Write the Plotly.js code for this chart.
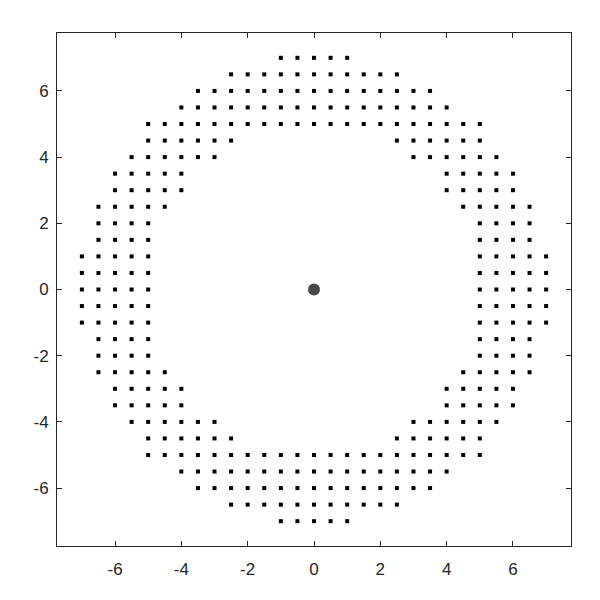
<!DOCTYPE html>
<html>
<head>
<meta charset="utf-8">
<script src="https://cdn.plot.ly/plotly-3.0.1.min.js"></script>
<style>
body { margin: 0; background: #fff; }
#graph { width: 600px; height: 600px; }
</style>
</head>
<body>
<div id="graph"></div>
<script>
// grid points of the ring, one row per y value
var rowY = [7, 6.5, 6, 5.5, 5, 4.5, 4, 3.5, 3, 2.5, 2, 1.5, 1, 0.5, 0,
	-0.5, -1, -1.5, -2, -2.5, -3, -3.5, -4, -4.5, -5, -5.5, -6, -6.5, -7];

var rowX = [
	[-1, -0.5, 0, 0.5, 1],
	[-2.5, -2, -1.5, -1, -0.5, 0, 0.5, 1, 1.5, 2, 2.5],
	[-3.5, -3, -2.5, -2, -1.5, -1, -0.5, 0, 0.5, 1, 1.5, 2, 2.5, 3, 3.5],
	[-4, -3.5, -3, -2.5, -2, -1.5, -1, -0.5, 0, 0.5, 1, 1.5, 2, 2.5, 3, 3.5, 4],
	[-5, -4.5, -4, -3.5, -3, -2.5, -2, -1.5, -1, -0.5, 0, 0.5, 1, 1.5, 2, 2.5, 3, 3.5, 4, 4.5, 5],
	[-5, -4.5, -4, -3.5, -3, -2.5, 2.5, 3, 3.5, 4, 4.5, 5],
	[-5.5, -5, -4.5, -4, -3.5, -3, 3, 3.5, 4, 4.5, 5, 5.5],
	[-6, -5.5, -5, -4.5, -4, 4, 4.5, 5, 5.5, 6],
	[-6, -5.5, -5, -4.5, -4, 4, 4.5, 5, 5.5, 6],
	[-6.5, -6, -5.5, -5, -4.5, 4.5, 5, 5.5, 6, 6.5],
	[-6.5, -6, -5.5, -5, 5, 5.5, 6, 6.5],
	[-6.5, -6, -5.5, -5, 5, 5.5, 6, 6.5],
	[-7, -6.5, -6, -5.5, -5, 5, 5.5, 6, 6.5, 7],
	[-7, -6.5, -6, -5.5, -5, 5, 5.5, 6, 6.5, 7],
	[-7, -6.5, -6, -5.5, -5, 5, 5.5, 6, 6.5, 7],
	[-7, -6.5, -6, -5.5, -5, 5, 5.5, 6, 6.5, 7],
	[-7, -6.5, -6, -5.5, -5, 5, 5.5, 6, 6.5, 7],
	[-6.5, -6, -5.5, -5, 5, 5.5, 6, 6.5],
	[-6.5, -6, -5.5, -5, 5, 5.5, 6, 6.5],
	[-6.5, -6, -5.5, -5, -4.5, 4.5, 5, 5.5, 6, 6.5],
	[-6, -5.5, -5, -4.5, -4, 4, 4.5, 5, 5.5, 6],
	[-6, -5.5, -5, -4.5, -4, 4, 4.5, 5, 5.5, 6],
	[-5.5, -5, -4.5, -4, -3.5, -3, 3, 3.5, 4, 4.5, 5, 5.5],
	[-5, -4.5, -4, -3.5, -3, -2.5, 2.5, 3, 3.5, 4, 4.5, 5],
	[-5, -4.5, -4, -3.5, -3, -2.5, -2, -1.5, -1, -0.5, 0, 0.5, 1, 1.5, 2, 2.5, 3, 3.5, 4, 4.5, 5],
	[-4, -3.5, -3, -2.5, -2, -1.5, -1, -0.5, 0, 0.5, 1, 1.5, 2, 2.5, 3, 3.5, 4],
	[-3.5, -3, -2.5, -2, -1.5, -1, -0.5, 0, 0.5, 1, 1.5, 2, 2.5, 3, 3.5],
	[-2.5, -2, -1.5, -1, -0.5, 0, 0.5, 1, 1.5, 2, 2.5],
	[-1, -0.5, 0, 0.5, 1]
];

var centerX = [0];
var centerY = [0];

var tickVals = [-6, -4, -2, 0, 2, 4, 6];
var tickText = ["-6", "-4", "-2", "0", "2", "4", "6"];

function genGraph()
{
	var px = [], py = [];
	var i, j;

	for (i = 0; i < rowY.length; i++)
		for (j = 0; j < rowX[i].length; j++)
		{
			px.push(rowX[i][j]);
			py.push(rowY[i]);
		}

	var ring =
	{
		type: "scatter",
		mode: "markers",
		x: px,
		y: py,
		marker: {symbol: "square", size: 4, color: "#000000"},
		hoverinfo: "skip"
	};

	var center =
	{
		type: "scatter",
		mode: "markers",
		x: centerX,
		y: centerY,
		marker: {symbol: "circle", size: 12, color: "#474747"},
		hoverinfo: "skip"
	};

	var axis =
	{
		range: [-7.75, 7.75],
		tickvals: tickVals,
		ticktext: tickText,
		ticks: "inside",
		ticklen: 5,
		tickcolor: "#262626",
		showline: true,
		linecolor: "#262626",
		linewidth: 1,
		mirror: "ticks",
		showgrid: false,
		zeroline: false,
		tickfont: {family: "Liberation Sans, Arial, sans-serif", size: 17, color: "#262626"}
	};

	var layout =
	{
		width: 600,
		height: 600,
		margin: {l: 57, r: 29, t: 33, b: 54},
		showlegend: false,
		paper_bgcolor: "#ffffff",
		plot_bgcolor: "#ffffff",
		xaxis: Object.assign({}, axis, {ticklabelstandoff: 8}),
		yaxis: Object.assign({}, axis, {ticklabelstandoff: 4})
	};

	Plotly.newPlot("graph", [ring, center], layout, {displayModeBar: false, staticPlot: true});
}

genGraph();
</script>
</body>
</html>
